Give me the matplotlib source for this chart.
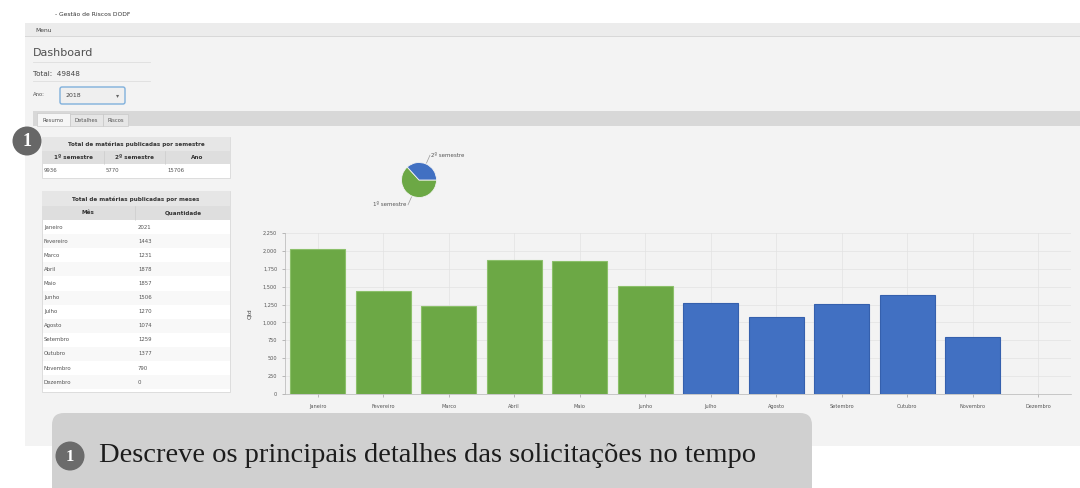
import matplotlib
matplotlib.use("Agg")
import matplotlib.pyplot as plt
import numpy as np
from matplotlib.patches import Rectangle, FancyBboxPatch, Circle

# ---- data ----
months = ["Janeiro", "Fevereiro", "Marco", "Abril", "Maio", "Junho",
          "Julho", "Agosto", "Setembro", "Outubro", "Novembro", "Dezembro"]
quantities = [2021, 1443, 1231, 1878, 1857, 1506, 1270, 1074, 1259, 1377, 790, 0]
semester_labels = ["1º semestre", "2º semestre"]
semester_totals = [9936, 5770]
year_total = 15706
grand_total = 49848
year = "2018"
yticks = [0, 250, 500, 750, 1000, 1250, 1500, 1750, 2000, 2250]

GREEN = "#6ca845"
BLUE = "#4170c2"
W, H = 1080, 488

fig = plt.figure(figsize=(W / 100, H / 100), dpi=100)
fig.patch.set_facecolor("white")

# background axes in pixel coordinates (y down)
bg = fig.add_axes([0, 0, 1, 1])
bg.set_xlim(0, W)
bg.set_ylim(H, 0)
bg.axis("off")


def txt(x, y, s, size=4.5, color="#555555", **kw):
    kw.setdefault("va", "center")
    bg.text(x, y, s, fontsize=size, color=color, **kw)


def box(x0, y0, x1, y1, fc, ec="none", lw=0.6, z=1):
    bg.add_patch(Rectangle((x0, y0), x1 - x0, y1 - y0, facecolor=fc,
                           edgecolor=ec, linewidth=lw, zorder=z))


# window title + menu bar
txt(55, 15, "- Gestão de Riscos DODF", size=4.3, color="#333333")
box(25, 23, W, 37, "#ececec")
box(25, 36, W, 37, "#d8d8d8")
txt(35, 30, "Menu", size=4.3, color="#444444")

# content panel
box(25, 37, W, 446, "#f3f3f3", z=0)

# header section
txt(33, 53, "Dashboard", size=8, color="#505050")
bg.plot([33, 150], [62, 62], color="#dedede", lw=0.6)
txt(33, 74, f"Total:  {grand_total}", size=5.2, color="#444444")
bg.plot([33, 150], [81, 81], color="#dedede", lw=0.6)
txt(33, 95, "Ano:", size=3.8, color="#555555")
bg.add_patch(FancyBboxPatch((60, 87), 65, 17, boxstyle="round,pad=0,rounding_size=2",
                            facecolor="#efefef", edgecolor="#7fb0dc", linewidth=1.0, zorder=2))
txt(65, 95.5, year, size=4.5, color="#444444", zorder=3)
txt(116, 96, "▾", size=4.5, color="#666666", zorder=3)

# tab bar
box(33, 111, W, 126, "#d8d8d8")
box(37, 113, 70, 126, "#f6f6f6", ec="#c4c4c4", lw=0.4, z=2)
box(70, 114, 103, 126, "#e6e6e6", ec="#c4c4c4", lw=0.4, z=2)
box(103, 114, 128, 126, "#e6e6e6", ec="#c4c4c4", lw=0.4, z=2)
txt(53.5, 120, "Resumo", size=3.8, ha="center", zorder=3)
txt(86.5, 120, "Detalhes", size=3.8, ha="center", zorder=3)
txt(115.5, 120, "Riscos", size=3.8, ha="center", zorder=3)

# ---- semester table ----
tx0, tx1 = 42, 230
box(tx0, 137, tx1, 178, "white", ec="#d2d2d2", lw=0.5)
box(tx0, 137, tx1, 151, "#e6e6e6")
box(tx0, 151, tx1, 164, "#dedede")
txt((tx0 + tx1) / 2, 144, "Total de matérias publicadas por semestre", size=4.1,
    color="#333333", ha="center", weight="bold")
sem_cols = [42, 104, 165, 230]
sem_head = semester_labels + ["Ano"]
sem_vals = semester_totals + [year_total]
for i in range(3):
    xc = (sem_cols[i] + sem_cols[i + 1]) / 2
    txt(xc, 157.5, sem_head[i], size=4.1, color="#333333", ha="center", weight="bold")
    txt(sem_cols[i] + 2, 171, str(sem_vals[i]), size=3.9)
    if i > 0:
        bg.plot([sem_cols[i]] * 2, [151, 164], color="#c8c8c8", lw=0.4)

# ---- month table ----
row_h = 14.1
r0 = 220
box(tx0, 191, tx1, 392, "white", ec="#d2d2d2", lw=0.5)
box(tx0, 191, tx1, 206, "#e6e6e6")
box(tx0, 206, tx1, r0, "#dedede")
txt((tx0 + tx1) / 2, 199, "Total de matérias publicadas por meses", size=4.1,
    color="#333333", ha="center", weight="bold")
txt(88, 213, "Mês", size=4.1, color="#333333", ha="center", weight="bold")
txt(183, 213, "Quantidade", size=4.1, color="#333333", ha="center", weight="bold")
bg.plot([135, 135], [206, r0], color="#c8c8c8", lw=0.4)
for i, (m, q) in enumerate(zip(months, quantities)):
    y0 = r0 + i * row_h
    if i % 2 == 1:
        box(tx0 + 0.5, y0, tx1 - 0.5, y0 + row_h, "#f8f8f8")
    txt(44, y0 + row_h / 2, m, size=3.9)
    txt(138, y0 + row_h / 2, str(q), size=3.9)

# badge 1 (top)
bg.add_patch(Circle((27, 141), 14.5, facecolor="#676767", edgecolor="none", zorder=5))
bg.text(27, 142, "1", fontsize=13, color="white", ha="center", va="center",
        family="Liberation Serif", weight="bold", zorder=6)

# ---- pie ----
pcx, pcy, pr = 419, 180, 17.5
pax = fig.add_axes([(pcx - pr) / W, 1 - (pcy + pr) / H, 2 * pr / W, 2 * pr / H])
frac2 = semester_totals[1] / sum(semester_totals)
wedges, _ = pax.pie(semester_totals, colors=[GREEN, BLUE], startangle=360 * frac2,
                    radius=1, wedgeprops=dict(edgecolor="#f3f3f3", linewidth=0.6))
pax.set_xlim(-1, 1)
pax.set_ylim(-1, 1)
pax.set_aspect("auto")
pax.axis("off")
for w, lab in zip(wedges, semester_labels):
    ang = np.radians((w.theta1 + w.theta2) / 2)
    c, s = np.cos(ang), np.sin(ang)
    x_in, y_in = pcx + 1.05 * pr * c, pcy - 1.05 * pr * s
    x_out, y_out = pcx + 1.55 * pr * c, pcy - 1.55 * pr * s
    bg.plot([x_in, x_out], [y_in, y_out], color="#9a9a9a", lw=0.5)
    ha = "left" if c > 0 else "right"
    txt(x_out + (1.5 if c > 0 else -1.5), y_out, lab, size=4.0, ha=ha)

# ---- bar chart ----
ax_l, ax_r, ax_t, ax_b = 285, 1071, 233, 394
ax = fig.add_axes([ax_l / W, 1 - ax_b / H, (ax_r - ax_l) / W, (ax_b - ax_t) / H])
ax.set_facecolor("#f3f3f3")
x = np.arange(len(months))
bar_colors = [GREEN] * 6 + [BLUE] * 6
edge_colors = ["#8cc06a"] * 6 + ["#3560ad"] * 6
edge_widths = [0.8 if q > 0 else 0 for q in quantities]
ax.bar(x, quantities, width=0.84, color=bar_colors, edgecolor=edge_colors,
       linewidth=edge_widths, zorder=3)
ax.set_xlim(-0.5, len(months) - 0.5)
ax.set_ylim(0, 2250)
ax.set_yticks(yticks)
ax.set_yticklabels([f"{v:,}" for v in yticks])
ax.set_xticks(x)
ax.set_xticklabels(months)
ax.tick_params(axis="both", labelsize=3.6, colors="#8a8a8a", labelcolor="#555555",
               length=2.5, width=0.4, pad=3)
ax.tick_params(axis="x", pad=5)
ax.grid(True, color="#e2e2e2", lw=0.5, zorder=0)
for side in ["top", "right"]:
    ax.spines[side].set_visible(False)
for side in ["left", "bottom"]:
    ax.spines[side].set_color("#b5b5b5")
    ax.spines[side].set_linewidth(0.5)
ax.set_ylabel("Qtd", fontsize=4.2, color="#444444", labelpad=8)

# ---- caption callout ----
bg.add_patch(FancyBboxPatch((52, 413), 760, 95, boxstyle="round,pad=0,rounding_size=12",
                            facecolor="#d0d0d0", edgecolor="none", zorder=4))
bg.add_patch(Circle((70, 456), 14.5, facecolor="#6b6b6b", edgecolor="none", zorder=5))
bg.text(70, 457, "1", fontsize=12, color="white", ha="center", va="center",
        family="Liberation Serif", weight="bold", zorder=6)
bg.text(99, 455, "Descreve os principais detalhes das solicitações no tempo",
        fontsize=20.5, color="#1c1c1c", ha="left", va="center",
        family="Liberation Serif", zorder=6)

fig.savefig("out.png", dpi=100)
